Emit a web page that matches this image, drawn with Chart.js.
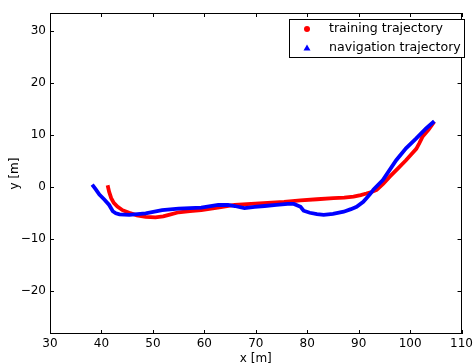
<!DOCTYPE html>
<html>
<head>
<meta charset="utf-8">
<script src="https://cdn.jsdelivr.net/npm/chart.js@4"></script>
<style>
  html, body { margin: 0; padding: 0; background: #fff; }
</style>
</head>
<body>
<canvas id="traj" width="476" height="364"></canvas>
<script>
// training trajectory (red)
const trainX = [41.2, 41.5, 41.9, 42.4, 43.1, 44.1, 45.4, 46.9, 48.6, 50.5, 52.0, 53.1, 55.0, 57.2, 59.4, 62.6, 65.9, 69.1, 72.3, 75.5, 78.7, 81.9, 85.1, 87.2, 89.0, 90.4, 91.5, 92.5, 93.5, 94.8, 96.0, 97.6, 99.2, 100.2, 101.2, 101.8, 102.4, 103.6, 104.7];
const trainY = [0.3, -1.0, -2.2, -3.1, -3.8, -4.5, -5.0, -5.5, -5.8, -5.9, -5.7, -5.4, -4.9, -4.7, -4.5, -4.0, -3.5, -3.3, -3.1, -2.9, -2.6, -2.4, -2.2, -2.1, -1.9, -1.6, -1.3, -1.0, -0.6, 0.6, 1.9, 3.5, 5.1, 6.2, 7.3, 8.4, 9.6, 11.0, 12.5];

// navigation trajectory (blue)
const navX = [38.2, 38.9, 39.6, 40.6, 41.5, 42.2, 42.8, 43.5, 45.4, 48.6, 51.8, 55.0, 59.4, 62.7, 64.6, 65.9, 67.8, 69.8, 71.7, 74.0, 76.2, 77.4, 78.7, 79.3, 80.5, 81.9, 83.2, 85.0, 87.1, 88.5, 89.6, 90.9, 91.6, 92.3, 92.9, 94.7, 96.0, 97.3, 99.2, 101.2, 103.1, 104.7];
const navY = [0.4, -0.5, -1.5, -2.5, -3.5, -4.7, -5.1, -5.3, -5.4, -5.1, -4.5, -4.2, -4.0, -3.5, -3.5, -3.7, -4.1, -3.85, -3.7, -3.5, -3.3, -3.3, -3.85, -4.6, -5.0, -5.25, -5.4, -5.2, -4.8, -4.3, -3.85, -2.9, -2.1, -1.3, -0.5, 1.3, 3.2, 5.1, 7.4, 9.3, 11.2, 12.6];

const xTicks = [30, 40, 50, 60, 70, 80, 90, 100, 110];
const yTicks = [-20, -10, 0, 10, 20, 30];
const labels = ['training trajectory', 'navigation trajectory'];

const pts = (xs, ys) => xs.map((x, i) => ({ x: x, y: ys[i] }));

Chart.defaults.font.family = "'DejaVu Sans', sans-serif";
Chart.defaults.font.size = 12;
Chart.defaults.color = '#000';

// matplotlib-ish frame with inward ticks on every side
const frame = {
  id: 'frame',
  afterDraw(chart) {
    const { ctx, chartArea: a, scales } = chart;
    ctx.save();
    ctx.strokeStyle = '#000';
    ctx.lineWidth = 1;
    ctx.strokeRect(Math.round(a.left) + 0.5, Math.round(a.top) + 0.5,
      Math.round(a.right - a.left) - 1, Math.round(a.bottom - a.top) - 1);
    ctx.beginPath();
    xTicks.forEach(v => {
      const p = Math.round(scales.x.getPixelForValue(v)) + 0.5;
      ctx.moveTo(p, a.bottom); ctx.lineTo(p, a.bottom - 4);
      ctx.moveTo(p, a.top); ctx.lineTo(p, a.top + 4);
    });
    yTicks.forEach(v => {
      const p = Math.round(scales.y.getPixelForValue(v)) + 0.5;
      ctx.moveTo(a.left, p); ctx.lineTo(a.left + 4, p);
      ctx.moveTo(a.right, p); ctx.lineTo(a.right - 4, p);
    });
    ctx.stroke();
    ctx.restore();
  }
};

const legendBox = {
  id: 'legendBox',
  afterDraw(chart) {
    const ctx = chart.ctx;
    ctx.save();
    ctx.fillStyle = '#fff';
    ctx.fillRect(289, 19, 175, 38);
    ctx.strokeStyle = '#000';
    ctx.lineWidth = 1;
    ctx.strokeRect(289.5, 19.5, 175, 38);

    ctx.fillStyle = '#ff0000';
    ctx.beginPath();
    ctx.arc(307, 29, 3, 0, Math.PI * 2);
    ctx.fill();

    ctx.fillStyle = '#0000ff';
    ctx.beginPath();
    ctx.moveTo(307, 44.5);
    ctx.lineTo(310.5, 50.5);
    ctx.lineTo(303.5, 50.5);
    ctx.closePath();
    ctx.fill();

    ctx.fillStyle = '#000';
    ctx.font = "12.6px 'DejaVu Sans'";
    ctx.textBaseline = 'middle';
    ctx.fillText(labels[0], 329, 29);
    ctx.fillText(labels[1], 329, 48);
    ctx.restore();
  }
};

new Chart(document.getElementById('traj'), {
  type: 'scatter',
  data: {
    datasets: [{
      label: labels[0],
      data: pts(trainX, trainY),
      showLine: true,
      borderColor: '#ff0000',
      backgroundColor: '#ff0000',
      borderWidth: 3.8,
      pointRadius: 0,
      order: 2
    }, {
      label: labels[1],
      data: pts(navX, navY),
      showLine: true,
      borderColor: '#0000ff',
      backgroundColor: '#0000ff',
      borderWidth: 3.8,
      pointRadius: 0,
      order: 1
    }]
  },
  options: {
    responsive: false,
    animation: false,
    devicePixelRatio: 1,
    layout: { padding: { top: 13, right: 10, left: 0, bottom: 0 } },
    plugins: { legend: { display: false }, tooltip: { enabled: false } },
    scales: {
      x: {
        type: 'linear',
        min: 30,
        max: 110,
        afterBuildTicks: s => { s.ticks = xTicks.map(v => ({ value: v })); },
        afterFit: s => { s.height = 30; },
        grid: { display: false, drawTicks: false },
        border: { display: false },
        ticks: { padding: 3, maxRotation: 0, font: { size: 12 } },
        title: { display: true, text: 'x [m]', padding: { top: 0, bottom: -2 }, font: { size: 12 } }
      },
      y: {
        type: 'linear',
        min: -28.3,
        max: 33.4,
        afterBuildTicks: s => { s.ticks = yTicks.map(v => ({ value: v })); },
        afterFit: s => { s.width = 50; },
        grid: { display: false, drawTicks: false },
        border: { display: false },
        ticks: { padding: 4, font: { size: 12 }, callback: v => v < 0 ? '\u2212' + Math.abs(v) : '' + v },
        title: { display: true, text: 'y [m]', padding: { top: 8, bottom: 0 }, font: { size: 12 } }
      }
    }
  },
  plugins: [frame, legendBox]
});
</script>
</body>
</html>
